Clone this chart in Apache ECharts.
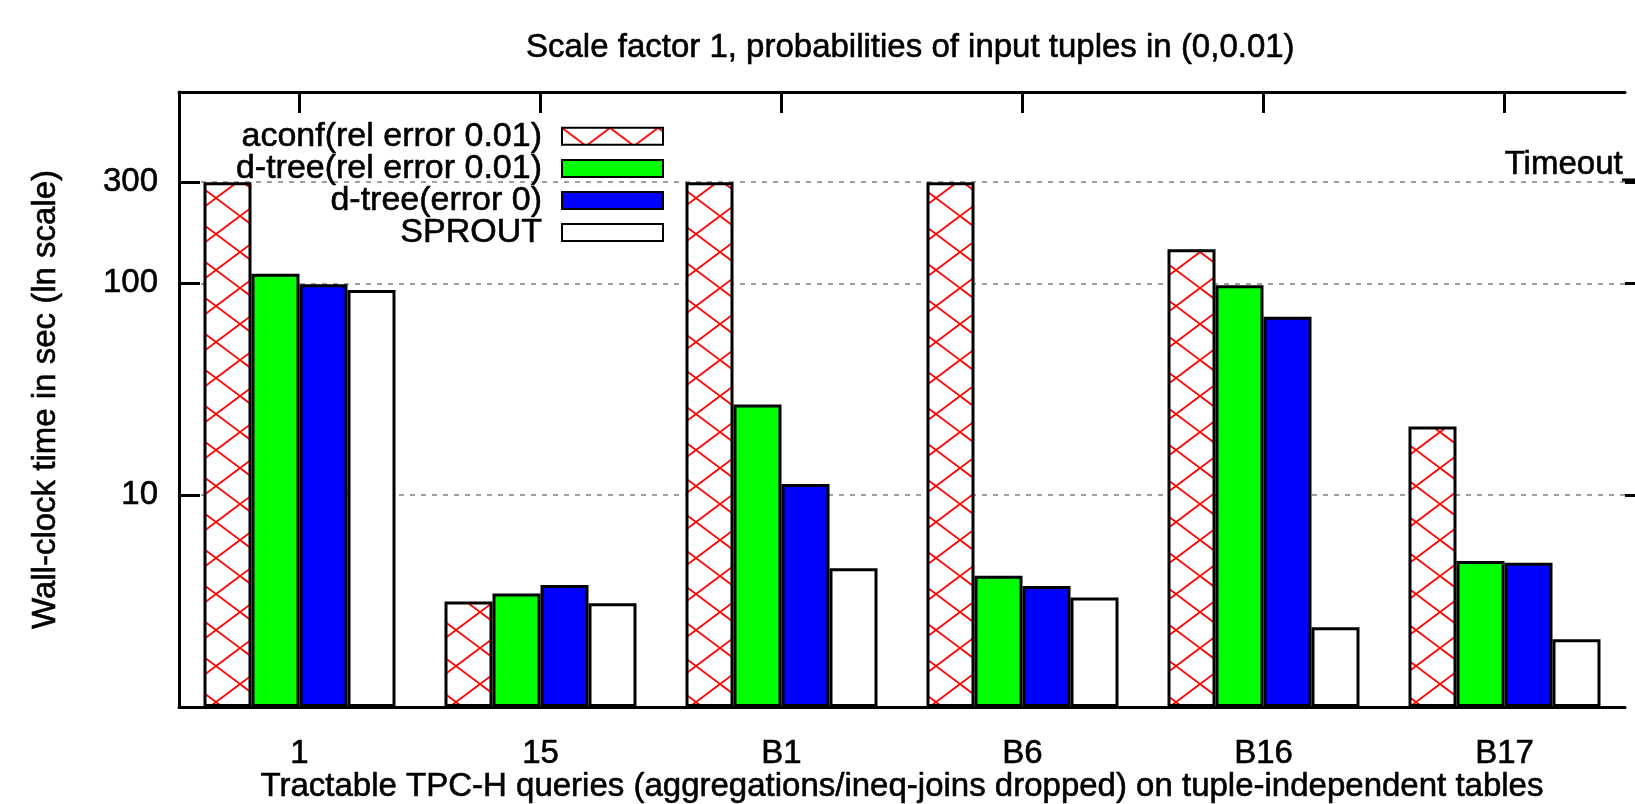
<!DOCTYPE html>
<html>
<head>
<meta charset="utf-8">
<script src="https://cdn.jsdelivr.net/npm/echarts@6/dist/echarts.min.js"></script>
<style>
  html, body { margin: 0; padding: 0; background: #fff; }
  #chart { width: 1635px; height: 804px; }
</style>
</head>
<body>
<div id="chart"></div>
<script>
const queries = ["1", "15", "B1", "B6", "B16", "B17"]
const aconf = [300, 3.15, 300, 300, 145, 21.1]
const dtreeRel = [111, 3.43, 26.8, 4.16, 98, 4.89]
const dtreeExact = [99, 3.77, 11.3, 3.73, 69.5, 4.8]
const sprout = [93, 3.09, 4.52, 3.29, 2.38, 2.09]
const yTicks = [10, 100, 300]
const timeout = 300

const font = "Liberation Sans, Arial, sans-serif"
// gnuplot text is a bit heavier than plain Liberation Sans
const txt = { fontFamily: font, fontSize: 33, fontWeight: "normal", color: "#000", textBorderColor: "#000", textBorderWidth: 0.6 }

// red cross-hatch like gnuplot's fill pattern 2
function crossHatch() {
  const c = document.createElement("canvas")
  c.width = 48
  c.height = 36
  const ctx = c.getContext("2d")
  ctx.fillStyle = "#fff"
  ctx.fillRect(0, 0, 48, 36)
  ctx.strokeStyle = "#ff0000"
  ctx.lineWidth = 1.8
  ctx.beginPath()
  ctx.moveTo(0, 0); ctx.lineTo(48, 36)
  ctx.moveTo(0, 36); ctx.lineTo(48, 0)
  ctx.stroke()
  return c
}

const chart = echarts.init(document.getElementById("chart"), null, { renderer: "canvas" })

function barSeries(name, data, color, extra) {
  return Object.assign({
    name,
    type: "bar",
    data,
    barWidth: 48,
    barGap: "0%",
    itemStyle: { color, borderColor: "#000", borderWidth: 3 }
  }, extra || {})
}

const frame = { show: true, lineStyle: { color: "#000", width: 3 } }
const tickCfg = { show: true, inside: true, length: 21, lineStyle: { color: "#000", width: 3 } }

chart.setOption({
  animation: false,
  textStyle: { fontFamily: font },
  title: {
    text: "Scale factor 1, probabilities of input tuples in (0,0.01)",
    left: 521,
    top: 26,
    textStyle: txt
  },
  legend: {
    orient: "vertical",
    align: "right",
    right: 966,
    top: 114,
    icon: "rect",
    itemWidth: 101,
    itemHeight: 17,
    itemGap: -2.5,
    textStyle: Object.assign({}, txt, { fontSize: 34, padding: [0, 15, 0, 0] }),
    data: ["aconf(rel error 0.01)", "d-tree(rel error 0.01)", "d-tree(error 0)", "SPROUT"]
  },
  grid: { left: 179, right: 10, top: 92, bottom: 97, outerBoundsMode: "none", containLabel: false },
  xAxis: [
    {
      type: "category",
      data: queries,
      position: "bottom",
      name: "Tractable TPC-H queries (aggregations/ineq-joins dropped) on tuple-independent tables",
      nameLocation: "middle",
      nameGap: 63,
      nameMoveOverlap: false,
      nameTextStyle: txt,
      axisLine: frame,
      axisTick: { show: false },
      axisLabel: Object.assign({ margin: 30 }, txt)
    },
    {
      type: "category",
      data: queries,
      position: "top",
      axisLine: frame,
      axisTick: Object.assign({ alignWithLabel: true }, tickCfg),
      axisLabel: { show: false }
    }
  ],
  yAxis: [
    {
      type: "log",
      min: 1,
      max: 800,
      position: "left",
      name: "Wall-clock time in sec (ln scale)",
      nameLocation: "middle",
      nameGap: 117,
      nameMoveOverlap: false,
      nameTextStyle: txt,
      axisLine: frame,
      axisTick: Object.assign({ customValues: yTicks }, tickCfg),
      axisLabel: Object.assign({ customValues: yTicks, margin: 21, formatter: v => String(Math.round(v)) }, txt),
      minorTick: { show: false },
      splitLine: { show: true, lineStyle: { color: "#808080", width: 1.5, type: [5, 6] } }
    },
    {
      type: "log",
      min: 1,
      max: 800,
      position: "right",
      axisLine: { show: false },
      axisTick: { show: true, inside: false, length: 21, customValues: yTicks, lineStyle: { color: "#000", width: 3 } },
      axisLabel: { show: false },
      splitLine: { show: false }
    }
  ],
  series: [
    barSeries("aconf(rel error 0.01)", aconf, { image: crossHatch(), repeat: "repeat" }, {
      markLine: {
        silent: true,
        symbol: "none",
        lineStyle: { color: "rgba(0,0,0,0)", width: 1 },
        label: Object.assign({
          show: true,
          position: "insideEndTop",
          formatter: "Timeout_",
          distance: [-16, 1]
        }, txt),
        data: [{ yAxis: timeout }]
      }
    }),
    barSeries("d-tree(rel error 0.01)", dtreeRel, "#00ff00"),
    barSeries("d-tree(error 0)", dtreeExact, "#0000ff"),
    barSeries("SPROUT", sprout, "#ffffff")
  ]
})
</script>
</body>
</html>
